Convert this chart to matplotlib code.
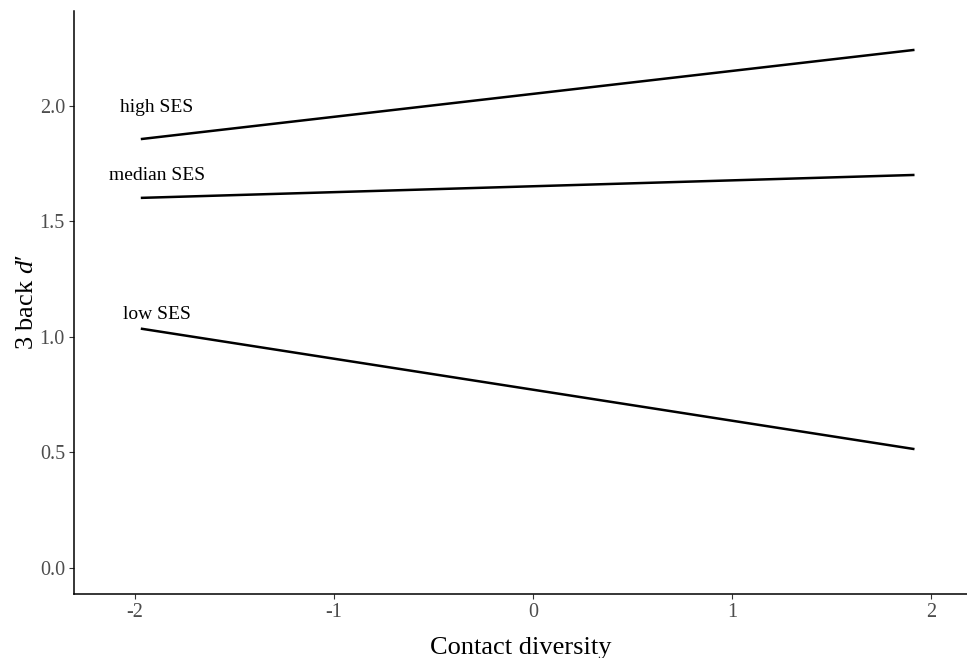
import matplotlib
matplotlib.use("Agg")
import matplotlib.pyplot as plt

# Simple slopes of 3-back d' on contact diversity, by SES level
groups = ["high SES", "median SES", "low SES"]
x_start = [-1.965, -1.965, -1.965]
x_end = [1.91, 1.91, 1.91]
y_start = [1.857, 1.602, 1.035]
y_end = [2.242, 1.701, 0.515]

# label anchors (data coords)
label_x = [-1.89, -1.89, -1.89]
label_y = [1.995, 1.697, 1.095]

x_ticks = [-2, -1, 0, 1, 2]
y_ticks = [0.0, 0.5, 1.0, 1.5, 2.0]

plt.rcParams["font.family"] = ["Liberation Serif", "DejaVu Serif"]
plt.rcParams["mathtext.fontset"] = "custom"
plt.rcParams["mathtext.rm"] = "Liberation Serif"
plt.rcParams["mathtext.it"] = "Liberation Serif:italic"

fig = plt.figure(figsize=(9.67, 6.58), dpi=100)
ax = fig.add_axes([0.0765, 0.0973, 0.9235, 0.886])

for i, g in enumerate(groups):
    ax.plot([x_start[i], x_end[i]], [y_start[i], y_end[i]], color="black", linewidth=1.8)
    ax.text(label_x[i], label_y[i], g, ha="center", va="center", fontsize=14, color="black")

ax.set_xlim(-2.307, 2.18)
ax.set_ylim(-0.113, 2.411)
ax.set_xticks(x_ticks)
ax.set_xticklabels([str(t) for t in x_ticks])
ax.set_yticks(y_ticks)
ax.set_yticklabels([f"{t:.1f}" for t in y_ticks])

ax.tick_params(axis="both", colors="#333333", labelcolor="#4D4D4D", labelsize=14.5, length=3.5, width=0.8, pad=3)
for side in ["top", "right"]:
    ax.spines[side].set_visible(False)
for side in ["left", "bottom"]:
    ax.spines[side].set_linewidth(1.1)
    ax.spines[side].set_color("black")

ax.set_xlabel("Contact diversity", fontsize=19, labelpad=11)
ax.set_ylabel("3 back $d$\u2032", fontsize=19, labelpad=1)

fig.savefig("out.png", dpi=100)
